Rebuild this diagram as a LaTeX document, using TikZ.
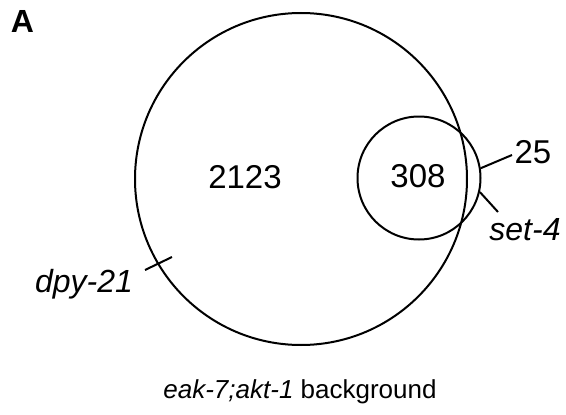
\documentclass[tikz,border=0pt]{standalone}
\usepackage{fontspec}
\setmainfont{Liberation Sans}
\begin{document}
\begin{tikzpicture}[x=1pt,y=-1pt,
  setcircle/.style={circle,draw,line width=2pt,inner sep=0pt},
  tick/.style={line width=2pt},
  countlbl/.style={anchor=base,inner sep=0pt,font=\fontsize{33}{33}\selectfont},
  genelbl/.style={anchor=base,inner sep=0pt,font=\fontsize{32}{32}\selectfont\itshape},
  captionlbl/.style={anchor=base,inner sep=0pt,font=\fontsize{26}{26}\selectfont},
  panel/.style={anchor=base,inner sep=0pt,font=\fontsize{32}{32}\selectfont\bfseries}]
\useasboundingbox (0,0) rectangle (566,415);

% the two sets
\node[setcircle,minimum size=332pt] (big) at (301,179) {};
\node[setcircle,minimum size=123pt] (small) at (419,178) {};

% counts
\node[countlbl] (n2123) at (245,188) {2123};
\node[countlbl] (n308) at (418,187) {308};
\node[countlbl] (n25) at (533,163) {25};

% gene labels
\node[genelbl] (set4) at (525,240) {set-4};
\node[genelbl] (dpy) at (84,292) {dpy-21};

% leader lines
\coordinate (c25) at (512,155);
\coordinate (cset) at (498,212);
\coordinate (dpyA) at (145,270);
\coordinate (dpyB) at (172,257);
\draw[tick] (small.9) -- (c25);
\draw[tick] (small.-13) -- (cset);
\draw[tick] (dpyA) -- (dpyB);

% panel letter and caption
\node[panel] (lblA) at (22.5,32) {A};
\node[captionlbl] (cap) at (300,398) {\textit{eak-7;akt-1} background};
\end{tikzpicture}
\end{document}
